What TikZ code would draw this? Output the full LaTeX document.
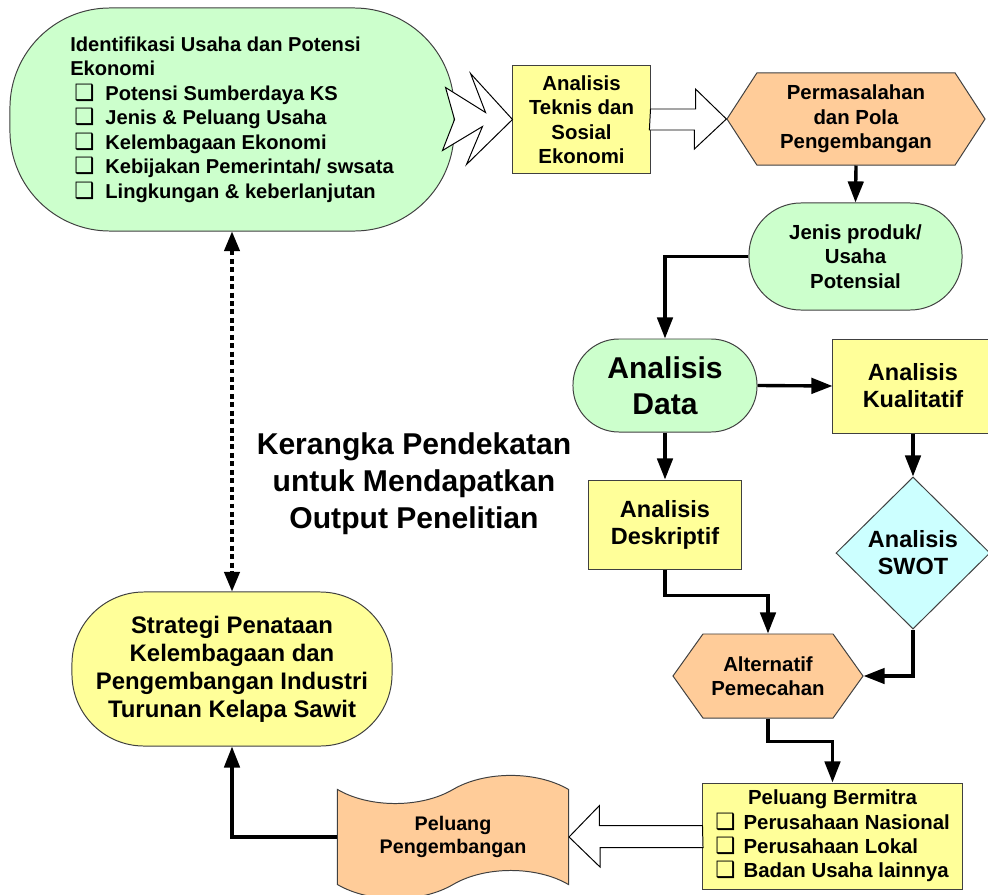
\documentclass[tikz,border=0pt]{standalone}
\usepackage{fontspec}
\setmainfont{Liberation Sans}
\newfontfamily\boxfont{DejaVu Sans}
\usetikzlibrary{shapes.geometric,shapes.symbols,arrows.meta,calc}

\definecolor{pillgreen}{HTML}{CCFFCC}
\definecolor{boxyellow}{HTML}{FFFF99}
\definecolor{hexorange}{HTML}{FFCC99}
\definecolor{swotcyan}{HTML}{CCFFFF}
\definecolor{edgegray}{HTML}{404040}

\newcommand{\chk}[2][0pt]{\makebox[#2][l]{\kern#1\relax{\boxfont\fontsize{16}{16}\selectfont ❑}}}
\newcommand{\mitem}[1]{\makebox[5.85cm][l]{\chk{20pt}#1}}

\tikzset{
  outline/.style={draw=edgegray, line width=0.7pt, align=center, inner sep=2pt,
    font=\bfseries\fontsize{14.5}{17.4}\selectfont},
  yellowbox/.style={outline, fill=boxyellow},
  greenpill/.style={outline, fill=pillgreen},
  orangehex/.style={outline, fill=hexorange, shape=signal, signal to=east and west},
  bigtext/.style={font=\bfseries\fontsize{16.7}{19.2}\selectfont},
  conn/.style={line width=2.4pt, -{Triangle[length=15pt,width=11pt]}},
  dots/.style={line width=2.2pt, dash pattern=on 3.5pt off 2.5pt,
    {Triangle[length=14pt,width=11pt]}-{Triangle[length=14pt,width=11pt]}},
  hollow/.style={draw=black, line width=0.7pt, fill=white},
}

\begin{document}
\begin{tikzpicture}[x=0.025cm, y=-0.025cm]
  \useasboundingbox (0,0) rectangle (988,895);
  \clip (0,0) rectangle (988,895);

  \node[greenpill, rounded corners=2.5cm, minimum width=11.1cm, minimum height=5.575cm,
    align=left, font=\bfseries\fontsize{14.3}{17.4}\selectfont] (ident) at (232,119.5)
    {Identifikasi Usaha dan Potensi\\Ekonomi\\
     \chk[3pt]{25pt}Potensi Sumberdaya KS\\
     \chk[3pt]{25pt}Jenis \& Peluang Usaha\\
     \chk[3pt]{25pt}Kelembagaan Ekonomi\\
     \chk[3pt]{25pt}Kebijakan Pemerintah/ swsata\\
     \chk[3pt]{25pt}Lingkungan \& keberlanjutan};
  \node[yellowbox, minimum width=3.425cm, minimum height=2.675cm] (teknis) at (581.5,119.5)
    {Analisis\\Teknis dan\\Sosial\\Ekonomi};
  \draw[hollow] (ident.east) -- ++(-9,-32) -- ++(40,25) -- ++(-15,-39) -- (teknis.west)
    -- ++(-46,45) -- ++(16,-38) -- ++(-40,24) -- cycle;

  \node[orangehex, signal pointer angle=114, minimum width=6.45cm, minimum height=2.3cm] (perm) at (856,119)
    {Permasalahan\\dan Pola\\Pengembangan};
  \draw[hollow] ($(teknis.east)+(0,-10.5)$) -- ++(45,0) -- ++(0,-20) -- (perm.west)
    -- ++(-32,30) -- ++(0,-19) -- ++(-45,0) -- cycle;

  \node[greenpill, rounded corners=1.3cm, minimum width=5.325cm, minimum height=2.675cm] (jenis) at (855.5,256.5)
    {Jenis produk/\\Usaha\\Potensial};
  \node[greenpill, rounded corners=1.15cm, minimum width=4.6cm, minimum height=2.325cm,
    font=\bfseries\fontsize{21.4}{25.6}\selectfont] (data) at (665,385.5) {Analisis\\Data};
  \node[yellowbox, bigtext, minimum width=4cm, minimum height=2.35cm] (kual) at (913,386) {Analisis\\Kualitatif};
  \node[yellowbox, bigtext, minimum width=3.8cm, minimum height=2.225cm] (desk) at (665,524.5) {Analisis\\Deskriptif};
  \node[outline, bigtext, fill=swotcyan, shape=diamond, minimum width=3.85cm, minimum height=3.8cm] (swot) at (913,553)
    {Analisis\\SWOT};
  \node[orangehex, signal pointer angle=109, minimum width=4.75cm, minimum height=2.1cm] (alt) at (768,676)
    {Alternatif\\Pemecahan};
  \node[yellowbox, minimum width=6.475cm, minimum height=2.65cm] (mitra) at (832.5,836)
    {Peluang Bermitra\\\mitem{Perusahaan Nasional}\\\mitem{Perusahaan Lokal}\\\mitem{Badan Usaha lainnya}};
  \node[outline, fill=hexorange, shape=tape, tape bend height=20pt, minimum width=5.775cm, inner ysep=9pt,
    font=\bfseries\fontsize{14}{16.5}\selectfont] (peng) at (453,837) {Peluang\\Pengembangan};
  \draw[hollow] ($(mitra.west)+(0,-10.5)$) -- ++(-103,0) -- ++(0,-20) -- (peng.east)
    -- ++(31,30) -- ++(0,-19.5) -- ++(103,0) -- cycle;

  \node[yellowbox, rounded corners=1.8cm, minimum width=8cm, minimum height=3.85cm,
    font=\bfseries\fontsize{17}{20}\selectfont] (strat) at (232,669)
    {Strategi Penataan\\Kelembagaan dan\\Pengembangan Industri\\Turunan Kelapa Sawit};
  \node[font=\bfseries\fontsize{21.4}{26.3}\selectfont, align=center] (judul) at (414,484)
    {Kerangka Pendekatan\\untuk Mendapatkan\\Output Penelitian};

  \draw[conn] (perm.south) -- (jenis.north);
  \draw[conn] (jenis.west) -| (data.north);
  \draw[conn] (data.east) -- (kual.west);
  \draw[conn] (data.south) -- (desk.north);
  \draw[conn] (kual.south) -- (swot.north);
  \draw[conn] (desk.south) -- ++(0,26) -| (alt.north);
  \draw[conn] (swot.south) |- (alt.east);
  \draw[conn] (alt.south) -- ++(0,23) -| (mitra.north);
  \draw[conn] (peng.west) -| (strat.south);
  \draw[dots] (ident.south) -- (strat.north);
\end{tikzpicture}
\end{document}
